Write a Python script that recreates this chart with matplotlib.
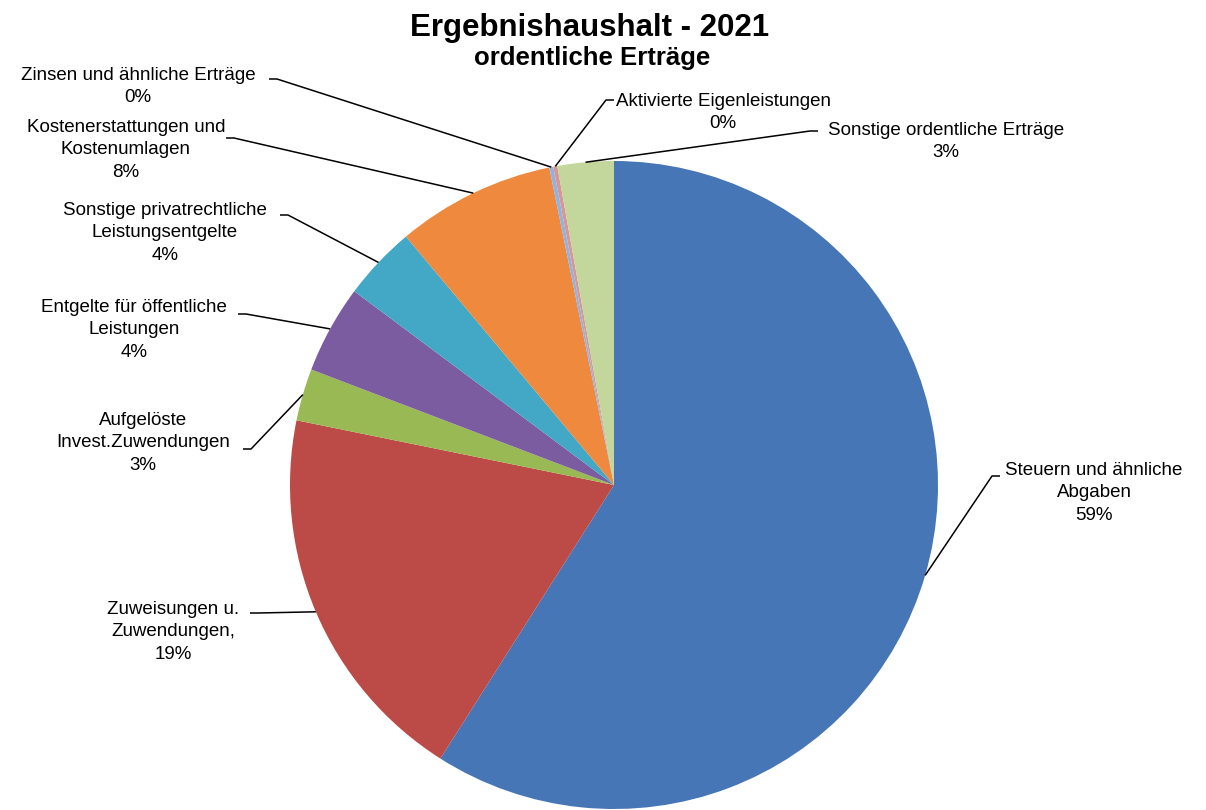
import matplotlib
matplotlib.use("Agg")
import matplotlib.pyplot as plt
import numpy as np

plt.rcParams["font.family"] = ["Liberation Sans", "DejaVu Sans"]

# Anteile in Prozent, im Uhrzeigersinn ab 12 Uhr
categories = [
    "Steuern und ähnliche\nAbgaben",
    "Zuweisungen u.\nZuwendungen,",
    "Aufgelöste\nInvest.Zuwendungen",
    "Entgelte für öffentliche\nLeistungen",
    "Sonstige privatrechtliche\nLeistungsentgelte",
    "Kostenerstattungen und\nKostenumlagen",
    "Zinsen und ähnliche Erträge",
    "Aktivierte Eigenleistungen",
    "Sonstige ordentliche Erträge",
]
shares = [59.0, 19.2, 2.6, 4.4, 3.7, 7.9, 0.2, 0.2, 2.8]
colors = ["#4676B6", "#BC4A46", "#98B954", "#7B5CA0", "#42A8C5",
          "#EE893D", "#8EB4E3", "#D99694", "#C3D69B"]

# label layout in pixel coords: (text center x, text top y, leader start x, leader start y, tick dx)
layout = [
    (1094, 462, 1000, 476, -8),
    (173, 601, 250, 613, 8),
    (143, 412, 243, 449, 8),
    (134, 299, 238, 314, 8),
    (165, 202, 280, 215, 8),
    (126, 119, 226, 138, 8),
    (138, 67, 269, 79, 8),
    (723, 93, 614, 100, -8),
    (946, 122, 818, 131, -8),
]

cx, cy, r = 614, 485, 324

fig = plt.figure(figsize=(12.06, 8.10), dpi=100)
ax = fig.add_axes([0, 0, 1, 1])
wedges, _ = ax.pie(shares, colors=colors, startangle=-90, counterclock=True,
                   center=(cx, cy), radius=r,
                   wedgeprops=dict(linewidth=0))
ax.set_xlim(0, 1206)
ax.set_ylim(810, 0)
ax.set_aspect("equal")
ax.axis("off")

total = sum(shares)
for w, name, val, (tx, ty, lx, ly, dx) in zip(wedges, categories, shares, layout):
    mid = np.deg2rad((w.theta1 + w.theta2) / 2)
    px, py = cx + r * np.cos(mid), cy + r * np.sin(mid)
    ax.plot([lx, lx + dx, px], [ly, ly, py], color="black", lw=1.1,
            solid_capstyle="butt")
    pct = f"{round(val / total * 100):d}%"
    ax.text(tx, ty, f"{name}\n{pct}", ha="center", va="top", fontsize=13.5,
            linespacing=1.42, multialignment="center")

ax.text(590, 28, "Ergebnishaushalt - 2021", ha="center", va="center",
        fontsize=22.5, fontweight="bold")
ax.text(592, 58, "ordentliche Erträge", ha="center", va="center",
        fontsize=18.5, fontweight="bold")

fig.savefig("out.png", dpi=100, facecolor="white")
